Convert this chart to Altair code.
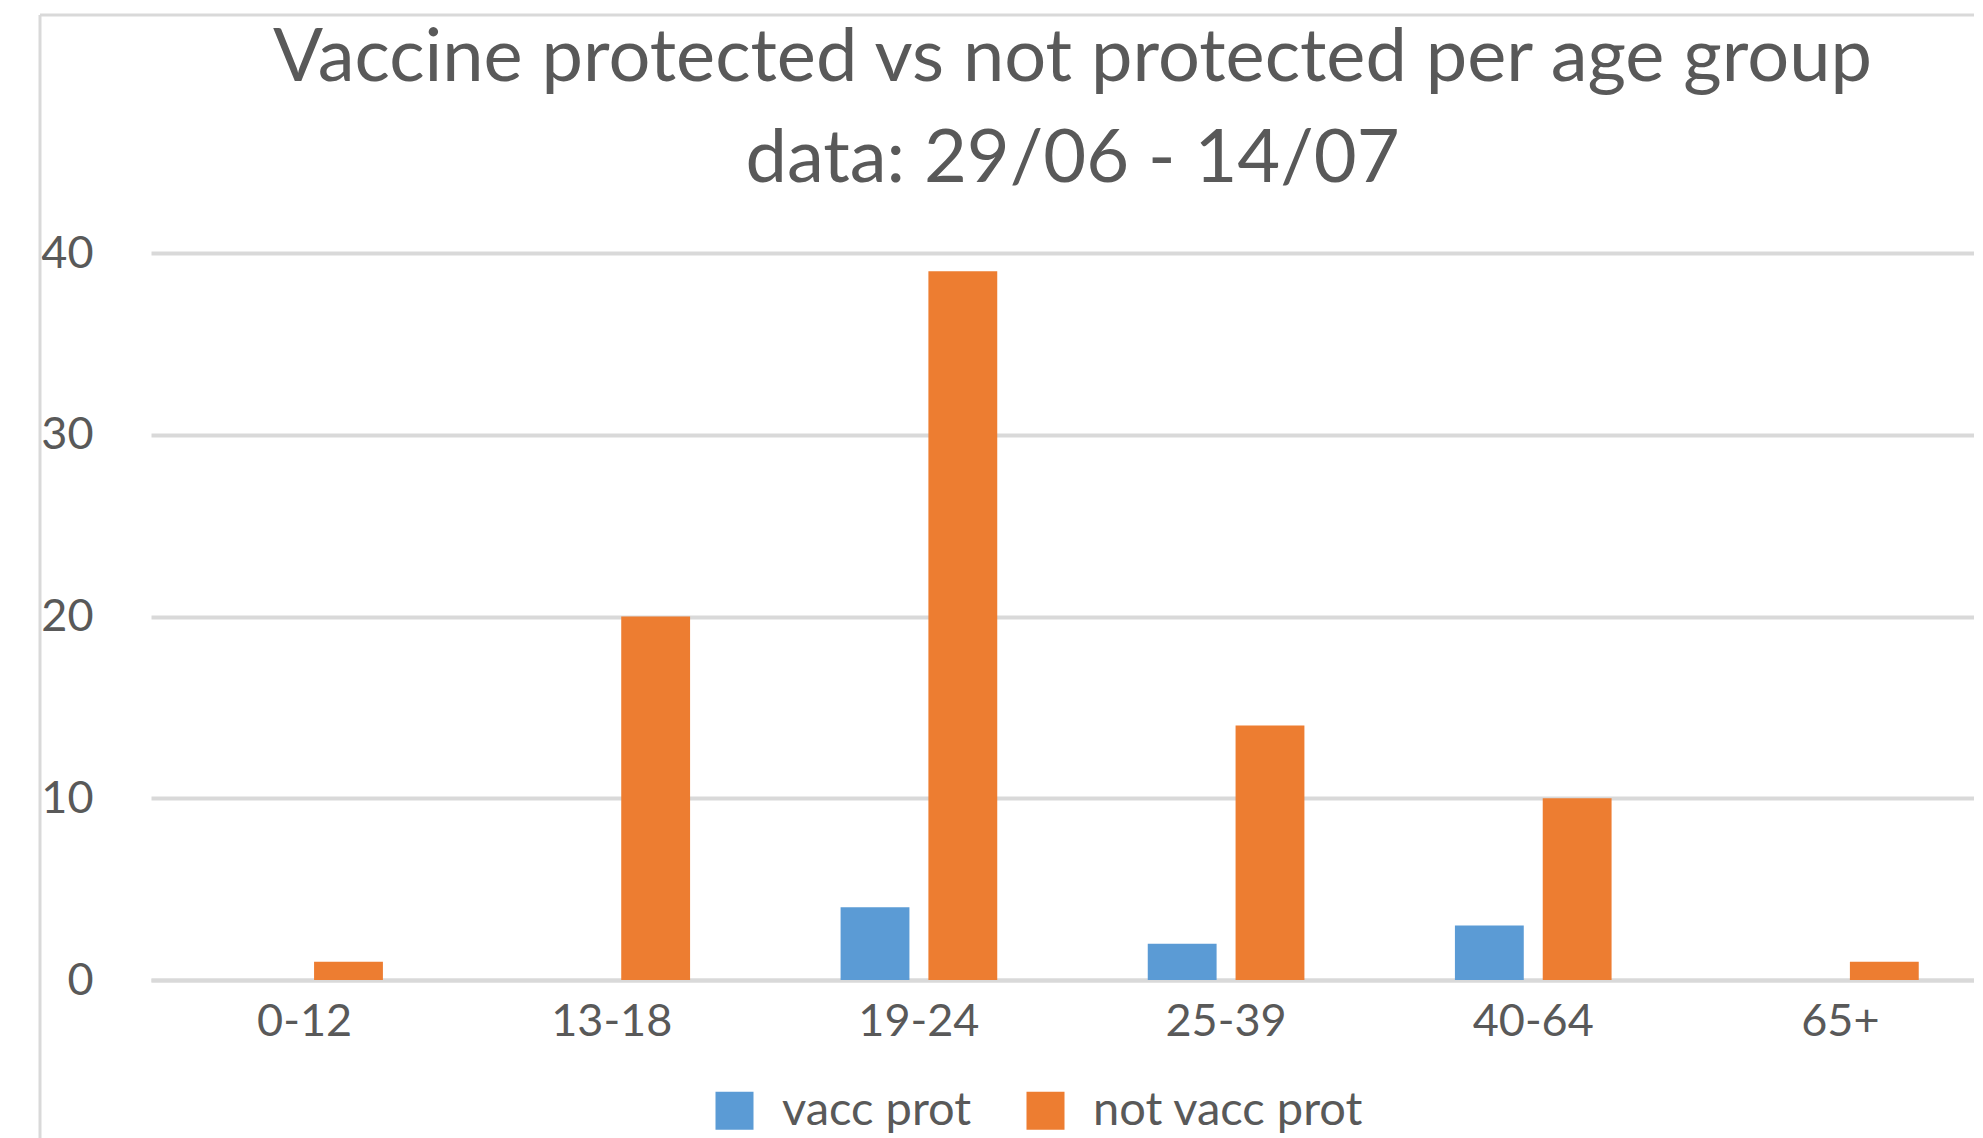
import altair as alt
import pandas as pd

age_groups = ["0-12", "13-18", "19-24", "25-39", "40-64", "65+"]
vacc_prot = [0, 0, 4, 2, 3, 0]
not_vacc_prot = [1, 20, 39, 14, 10, 1]
series_names = ["vacc prot", "not vacc prot"]
series_colors = ["#5B9BD5", "#ED7D31"]
y_ticks = [0, 10, 20, 30, 40]

rows = []
for g, v, n in zip(age_groups, vacc_prot, not_vacc_prot):
    rows.append({"age": g, "series": series_names[0], "value": v})
    rows.append({"age": g, "series": series_names[1], "value": n})
df = pd.DataFrame(rows)

FONT = "Lato"
GRAY = "#595959"
LINE = "#D9D9D9"

bars = alt.Chart(df).mark_bar().encode(
    x=alt.X("age:N", sort=age_groups,
            scale=alt.Scale(range=[0, 1843], paddingInner=0.49, paddingOuter=0.245),
            axis=alt.Axis(title=None, labelAngle=0, labelFontSize=45, labelColor=GRAY,
                          labelPadding=19, ticks=False, domainColor=LINE, domainWidth=4,
                          grid=False)),
    xOffset=alt.XOffset("series:N", sort=series_names,
                        scale=alt.Scale(paddingInner=0.216, paddingOuter=0)),
    y=alt.Y("value:Q", scale=alt.Scale(domain=[0, 40], nice=False),
            axis=alt.Axis(title=None, values=y_ticks, labelFontSize=45, labelColor=GRAY,
                          labelPadding=58, ticks=False, domain=False,
                          gridColor=LINE, gridWidth=4)),
    color=alt.Color("series:N", sort=series_names,
                    scale=alt.Scale(domain=series_names, range=series_colors),
                    legend=alt.Legend(title=None, orient="none", direction="horizontal",
                                      legendX=560, legendY=834, symbolType="square",
                                      symbolSize=1444, symbolStrokeWidth=0,
                                      labelFontSize=47, labelColor=GRAY, labelOffset=24,
                                      columnPadding=50, labelLimit=0)),
)

frame_df = pd.DataFrame({"k": [0]})
left_border = alt.Chart(frame_df).mark_rule(color=LINE, strokeWidth=3).encode(
    x=alt.value(-111), y=alt.value(-238), y2=alt.value(900)
)
top_border = alt.Chart(frame_df).mark_rule(color=LINE, strokeWidth=3).encode(
    x=alt.value(-111), x2=alt.value(1830), y=alt.value(-238)
)

chart = alt.layer(left_border, top_border, bars).properties(
    width=1823,
    height=727,
    padding={"left": 143, "top": 245, "right": 0, "bottom": 158},
    autosize=alt.AutoSizeParams(type="none"),
    title=alt.Title(
        ["Vaccine protected vs not protected per age group", "data: 29/06 - 14/07"],
        fontSize=74, font=FONT, fontWeight="normal", color=GRAY,
        anchor="middle", frame="group", lineHeight=101, offset=-184, dx=10,
    ),
).configure(font=FONT).configure_view(stroke=None).configure_axis(labelFont=FONT)

chart.save("out.html", embed_options={"renderer": "svg", "actions": False})
